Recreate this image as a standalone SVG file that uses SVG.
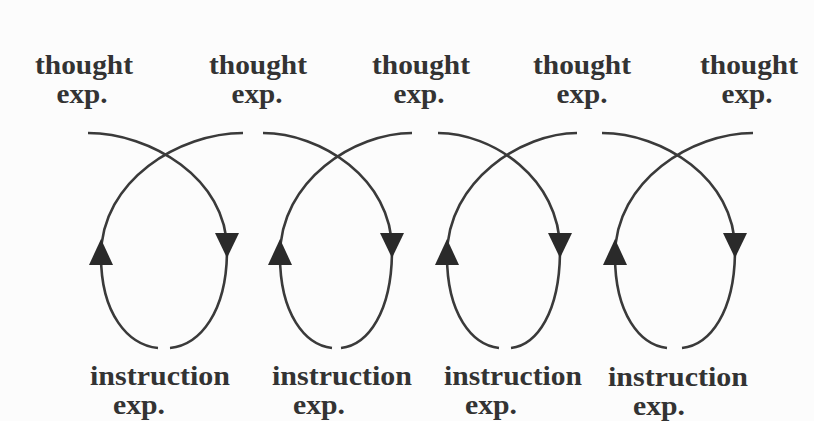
<svg xmlns="http://www.w3.org/2000/svg" width="814" height="421" viewBox="0 0 814 421">
<style>
  .lbl { font-family: "Liberation Serif", "Times New Roman", serif; font-weight: bold; font-size: 28px; fill: #333; text-anchor: middle; }
  .arc { fill: none; stroke: #3a3a3a; stroke-width: 2.6; stroke-linecap: butt; }
  .head { fill: #2a2a2a; }
</style>
<rect x="0" y="0" width="814" height="421" fill="#fcfcfc"/>

<g id="thought1"><text class="lbl" x="84" y="74" textLength="98" lengthAdjust="spacingAndGlyphs">thought</text><text class="lbl" x="82" y="103" textLength="51" lengthAdjust="spacingAndGlyphs">exp.</text></g>
<g id="thought2"><text class="lbl" x="258" y="74" textLength="98" lengthAdjust="spacingAndGlyphs">thought</text><text class="lbl" x="257" y="103" textLength="51" lengthAdjust="spacingAndGlyphs">exp.</text></g>
<g id="thought3"><text class="lbl" x="421" y="74" textLength="98" lengthAdjust="spacingAndGlyphs">thought</text><text class="lbl" x="419" y="103" textLength="51" lengthAdjust="spacingAndGlyphs">exp.</text></g>
<g id="thought4"><text class="lbl" x="582" y="74" textLength="98" lengthAdjust="spacingAndGlyphs">thought</text><text class="lbl" x="582" y="103" textLength="51" lengthAdjust="spacingAndGlyphs">exp.</text></g>
<g id="thought5"><text class="lbl" x="749" y="74" textLength="98" lengthAdjust="spacingAndGlyphs">thought</text><text class="lbl" x="747" y="103" textLength="51" lengthAdjust="spacingAndGlyphs">exp.</text></g>

<g id="instruction1"><text class="lbl" x="160" y="385" textLength="140" lengthAdjust="spacingAndGlyphs">instruction</text><text class="lbl" x="139" y="414" textLength="52" lengthAdjust="spacingAndGlyphs">exp.</text></g>
<g id="instruction2"><text class="lbl" x="342" y="385" textLength="140" lengthAdjust="spacingAndGlyphs">instruction</text><text class="lbl" x="319" y="414" textLength="52" lengthAdjust="spacingAndGlyphs">exp.</text></g>
<g id="instruction3"><text class="lbl" x="513" y="385" textLength="138" lengthAdjust="spacingAndGlyphs">instruction</text><text class="lbl" x="491" y="414" textLength="52" lengthAdjust="spacingAndGlyphs">exp.</text></g>
<g id="instruction4"><text class="lbl" x="678" y="386" textLength="140" lengthAdjust="spacingAndGlyphs">instruction</text><text class="lbl" x="659" y="415" textLength="52" lengthAdjust="spacingAndGlyphs">exp.</text></g>

<g id="connectors">
  <path class="arc" d="M88,133 C150,133 227,178 227,250 C227,312 200,345 170,348"/>
  <path class="arc" d="M243,133 C180,133 101,180 101,256 C101,314 128,345 158,348"/>
  <polygon class="head" points="215,233 239,233 227,258"/>
  <polygon class="head" points="101,239 89,265 113,265"/>

  <path class="arc" d="M263,133 C320,133 392,178 392,250 C392,312 368,345 341,348"/>
  <path class="arc" d="M412,133 C355,133 280,180 280,256 C280,314 305,345 332,348"/>
  <polygon class="head" points="380,233 404,233 392,258"/>
  <polygon class="head" points="280,239 268,265 292,265"/>

  <path class="arc" d="M438,133 C492,133 560,178 560,250 C560,312 537,345 511,348"/>
  <path class="arc" d="M577,133 C523,133 447,180 447,256 C447,314 472,345 499,348"/>
  <polygon class="head" points="548,233 572,233 560,258"/>
  <polygon class="head" points="447,239 435,265 459,265"/>

  <path class="arc" d="M602,133 C662,133 735,178 735,250 C735,312 710,345 682,348"/>
  <path class="arc" d="M753,133 C693,133 615,180 615,256 C615,314 640,345 667,348"/>
  <polygon class="head" points="723,233 747,233 735,258"/>
  <polygon class="head" points="615,239 603,265 627,265"/>
</g>
</svg>
